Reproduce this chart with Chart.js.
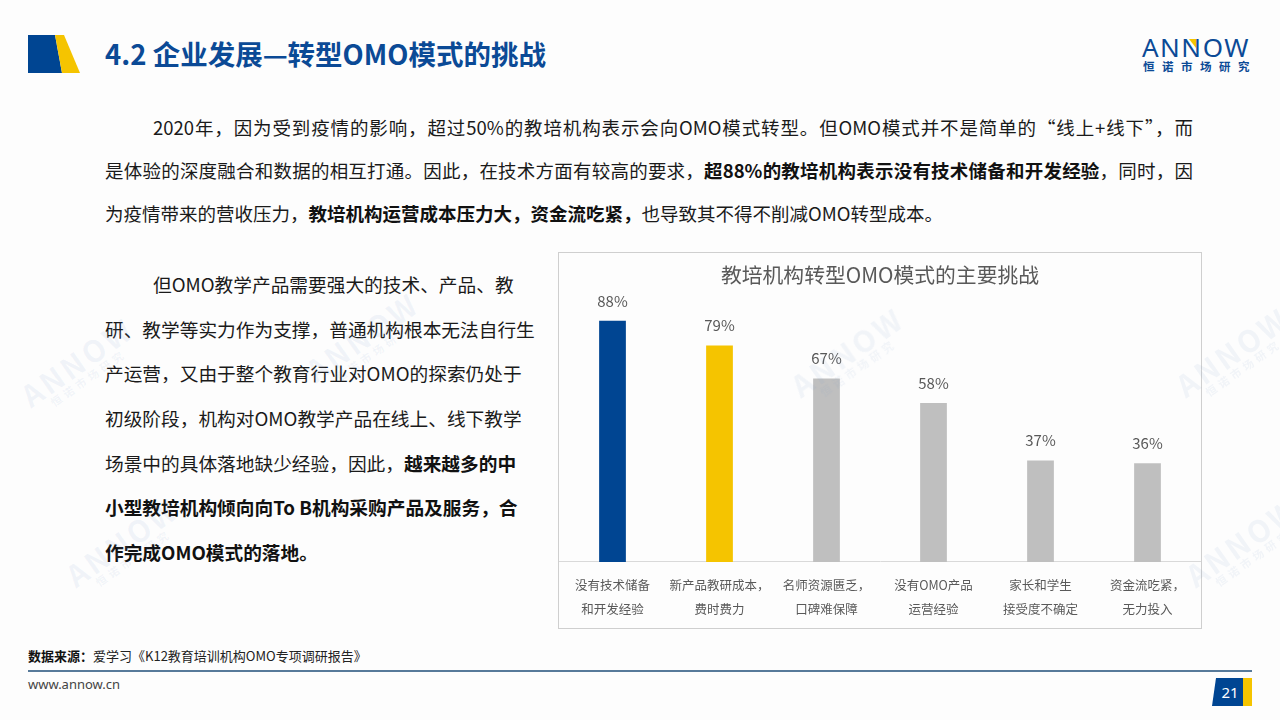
<!DOCTYPE html>
<html>
<head>
<meta charset="utf-8">
<script src="https://cdn.jsdelivr.net/npm/chart.js@4.4.1/dist/chart.umd.min.js"></script>
<style>
  body { margin: 0; width: 1280px; height: 720px; background: #fdfdfd; position: relative; overflow: hidden;
    font-family: "Noto Sans CJK SC", "Noto Sans", sans-serif; color: #1a1a1a; }
  .abs { position: absolute; }
  .title { left: 105px; top: 33px; font-size: 27.5px; font-weight: bold; color: #0b4a96; }
  .para { left: 105px; top: 106px; width: 1088px; font-size: 18.5px; }
  .para div { height: 43px; line-height: 43px; text-align: justify; text-align-last: justify; white-space: nowrap; }
  .para div.last { text-align-last: left; }
  .left { left: 105px; top: 262px; width: 440px; font-size: 18.7px; }
  .left div { height: 44.7px; line-height: 44.7px; white-space: nowrap; }
  b { font-weight: bold; color: #111; }
  .box { left: 558px; top: 252px; width: 642px; height: 375px; border: 1px solid #cfcfcf; background: #fdfdfd; overflow: hidden; }
  .wm { color: rgba(120,150,200,0.09); font-size: 30px; font-weight: bold; letter-spacing: 3px; transform: rotate(-35deg); line-height: 1; pointer-events: none; text-align: center; }
  .wm span { display: block; font-size: 11px; letter-spacing: 4px; }
</style>
</head>
<body>
<svg class="abs" style="left:0;top:0" width="1280" height="720">
  <polygon points="28,35 55,35 62,73 28,73" fill="#004592"/>
  <polygon points="55,35 64,35 80,73 62,73" fill="#f5c400"/>
  <line x1="28" y1="671" x2="1252" y2="671" stroke="#1f4e79" stroke-width="1.5"/>
  <polygon points="1216,678 1243,678 1243,706 1212,706" fill="#004592"/>
  <rect x="1243" y="678" width="9" height="28" fill="#f5c400"/>
  <text x="1230" y="698" fill="#fff" font-size="15" text-anchor="middle" font-family="Noto Sans">21</text>
  <text x="1142" y="57" fill="#0b4a96" font-size="26" font-family="Noto Sans" letter-spacing="1.5">ANNOW</text>
  <polygon points="1189,39 1196,39 1196,48" fill="#f5c400"/>
  <text x="1143" y="71" fill="#0b4a96" font-size="11.5" font-weight="bold" letter-spacing="7.5" font-family="Noto Sans CJK SC">恒诺市场研究</text>
</svg>

<div class="abs title">4.2 企业发展—转型OMO模式的挑战</div>

<div class="abs para">
  <div style="padding-left:48px">2020年，因为受到疫情的影响，超过50%的教培机构表示会向OMO模式转型。但OMO模式并不是简单的“线上+线下”，而</div>
  <div>是体验的深度融合和数据的相互打通。因此，在技术方面有较高的要求，<b>超88%的教培机构表示没有技术储备和开发经验</b>，同时，因</div>
  <div class="last">为疫情带来的营收压力，<b>教培机构运营成本压力大，资金流吃紧，</b>也导致其不得不削减OMO转型成本。</div>
</div>

<div class="abs left">
  <div style="padding-left:48px">但OMO教学产品需要强大的技术、产品、教</div>
  <div>研、教学等实力作为支撑，普通机构根本无法自行生</div>
  <div>产运营，又由于整个教育行业对OMO的探索仍处于</div>
  <div>初级阶段，机构对OMO教学产品在线上、线下教学</div>
  <div>场景中的具体落地缺少经验，因此，<b>越来越多的中</b></div>
  <div><b>小型教培机构倾向向To B机构采购产品及服务，合</b></div>
  <div><b>作完成OMO模式的落地。</b></div>
</div>

<div class="abs box">
  <canvas id="challengeChart" width="642" height="387"></canvas>
</div>

<div class="abs wm" style="left:15px;top:345px">ANNOW<span>恒诺市场研究</span></div>
<div class="abs wm" style="left:300px;top:320px">ANNOW<span>恒诺市场研究</span></div>
<div class="abs wm" style="left:785px;top:335px">ANNOW<span>恒诺市场研究</span></div>
<div class="abs wm" style="left:1170px;top:335px">ANNOW<span>恒诺市场研究</span></div>
<div class="abs wm" style="left:60px;top:525px">ANNOW<span>恒诺市场研究</span></div>
<div class="abs wm" style="left:1180px;top:525px">ANNOW<span>恒诺市场研究</span></div>

<div class="abs" style="left:28px;top:646px;font-size:13px;color:#222"><b>数据来源：</b>爱学习《K12教育培训机构OMO专项调研报告》</div>
<div class="abs" style="left:28px;top:675px;font-size:13px;color:#444;font-family:'Noto Sans'">www.annow.cn</div>

<script>
const chartTitle = '教培机构转型OMO模式的主要挑战';
const categories = [
  ['没有技术储备', '和开发经验'],
  ['新产品教研成本，', '费时费力'],
  ['名师资源匮乏，', '口碑难保障'],
  ['没有OMO产品', '运营经验'],
  ['家长和学生', '接受度不确定'],
  ['资金流吃紧，', '无力投入']
];
const shares = [88, 79, 67, 58, 37, 36];
const barColors = ['#004592', '#f5c400', '#bfbfbf', '#bfbfbf', '#bfbfbf', '#bfbfbf'];

const valueLabels = {
  id: 'valueLabels',
  afterDatasetsDraw(chart) {
    const ctx = chart.ctx;
    const meta = chart.getDatasetMeta(0);
    ctx.save();
    ctx.font = '15px "Noto Sans CJK SC", "Noto Sans", sans-serif';
    ctx.fillStyle = '#595959';
    ctx.textAlign = 'center';
    ctx.textBaseline = 'middle';
    meta.data.forEach((bar, i) => {
      ctx.fillText(shares[i] + '%', bar.x, bar.y - 20);
    });
    ctx.restore();
  }
};

new Chart(document.getElementById('challengeChart'), {
  type: 'bar',
  data: {
    labels: categories,
    datasets: [{
      data: shares,
      backgroundColor: barColors,
      barPercentage: 0.25,
      categoryPercentage: 1
    }]
  },
  options: {
    responsive: false,
    animation: false,
    layout: { padding: { top: 0, bottom: 8, left: 0, right: 0 } },
    plugins: {
      legend: { display: false },
      tooltip: { enabled: false },
      title: {
        display: true,
        text: chartTitle,
        color: '#595959',
        font: { size: 20.8, weight: 'normal', family: '"Noto Sans CJK SC", sans-serif' },
        padding: { top: 10, bottom: 0 }
      }
    },
    scales: {
      x: {
        grid: { display: false, drawTicks: false },
        border: { display: true, color: '#d9d9d9', width: 1 },
        ticks: {
          color: '#595959',
          padding: 11,
          maxRotation: 0,
          autoSkip: false,
          font: { size: 12.5, lineHeight: 1.92, family: '"Noto Sans CJK SC", sans-serif' }
        }
      },
      y: { display: false, min: 0, max: 100 }
    }
  },
  plugins: [valueLabels]
});
</script>
</body>
</html>
